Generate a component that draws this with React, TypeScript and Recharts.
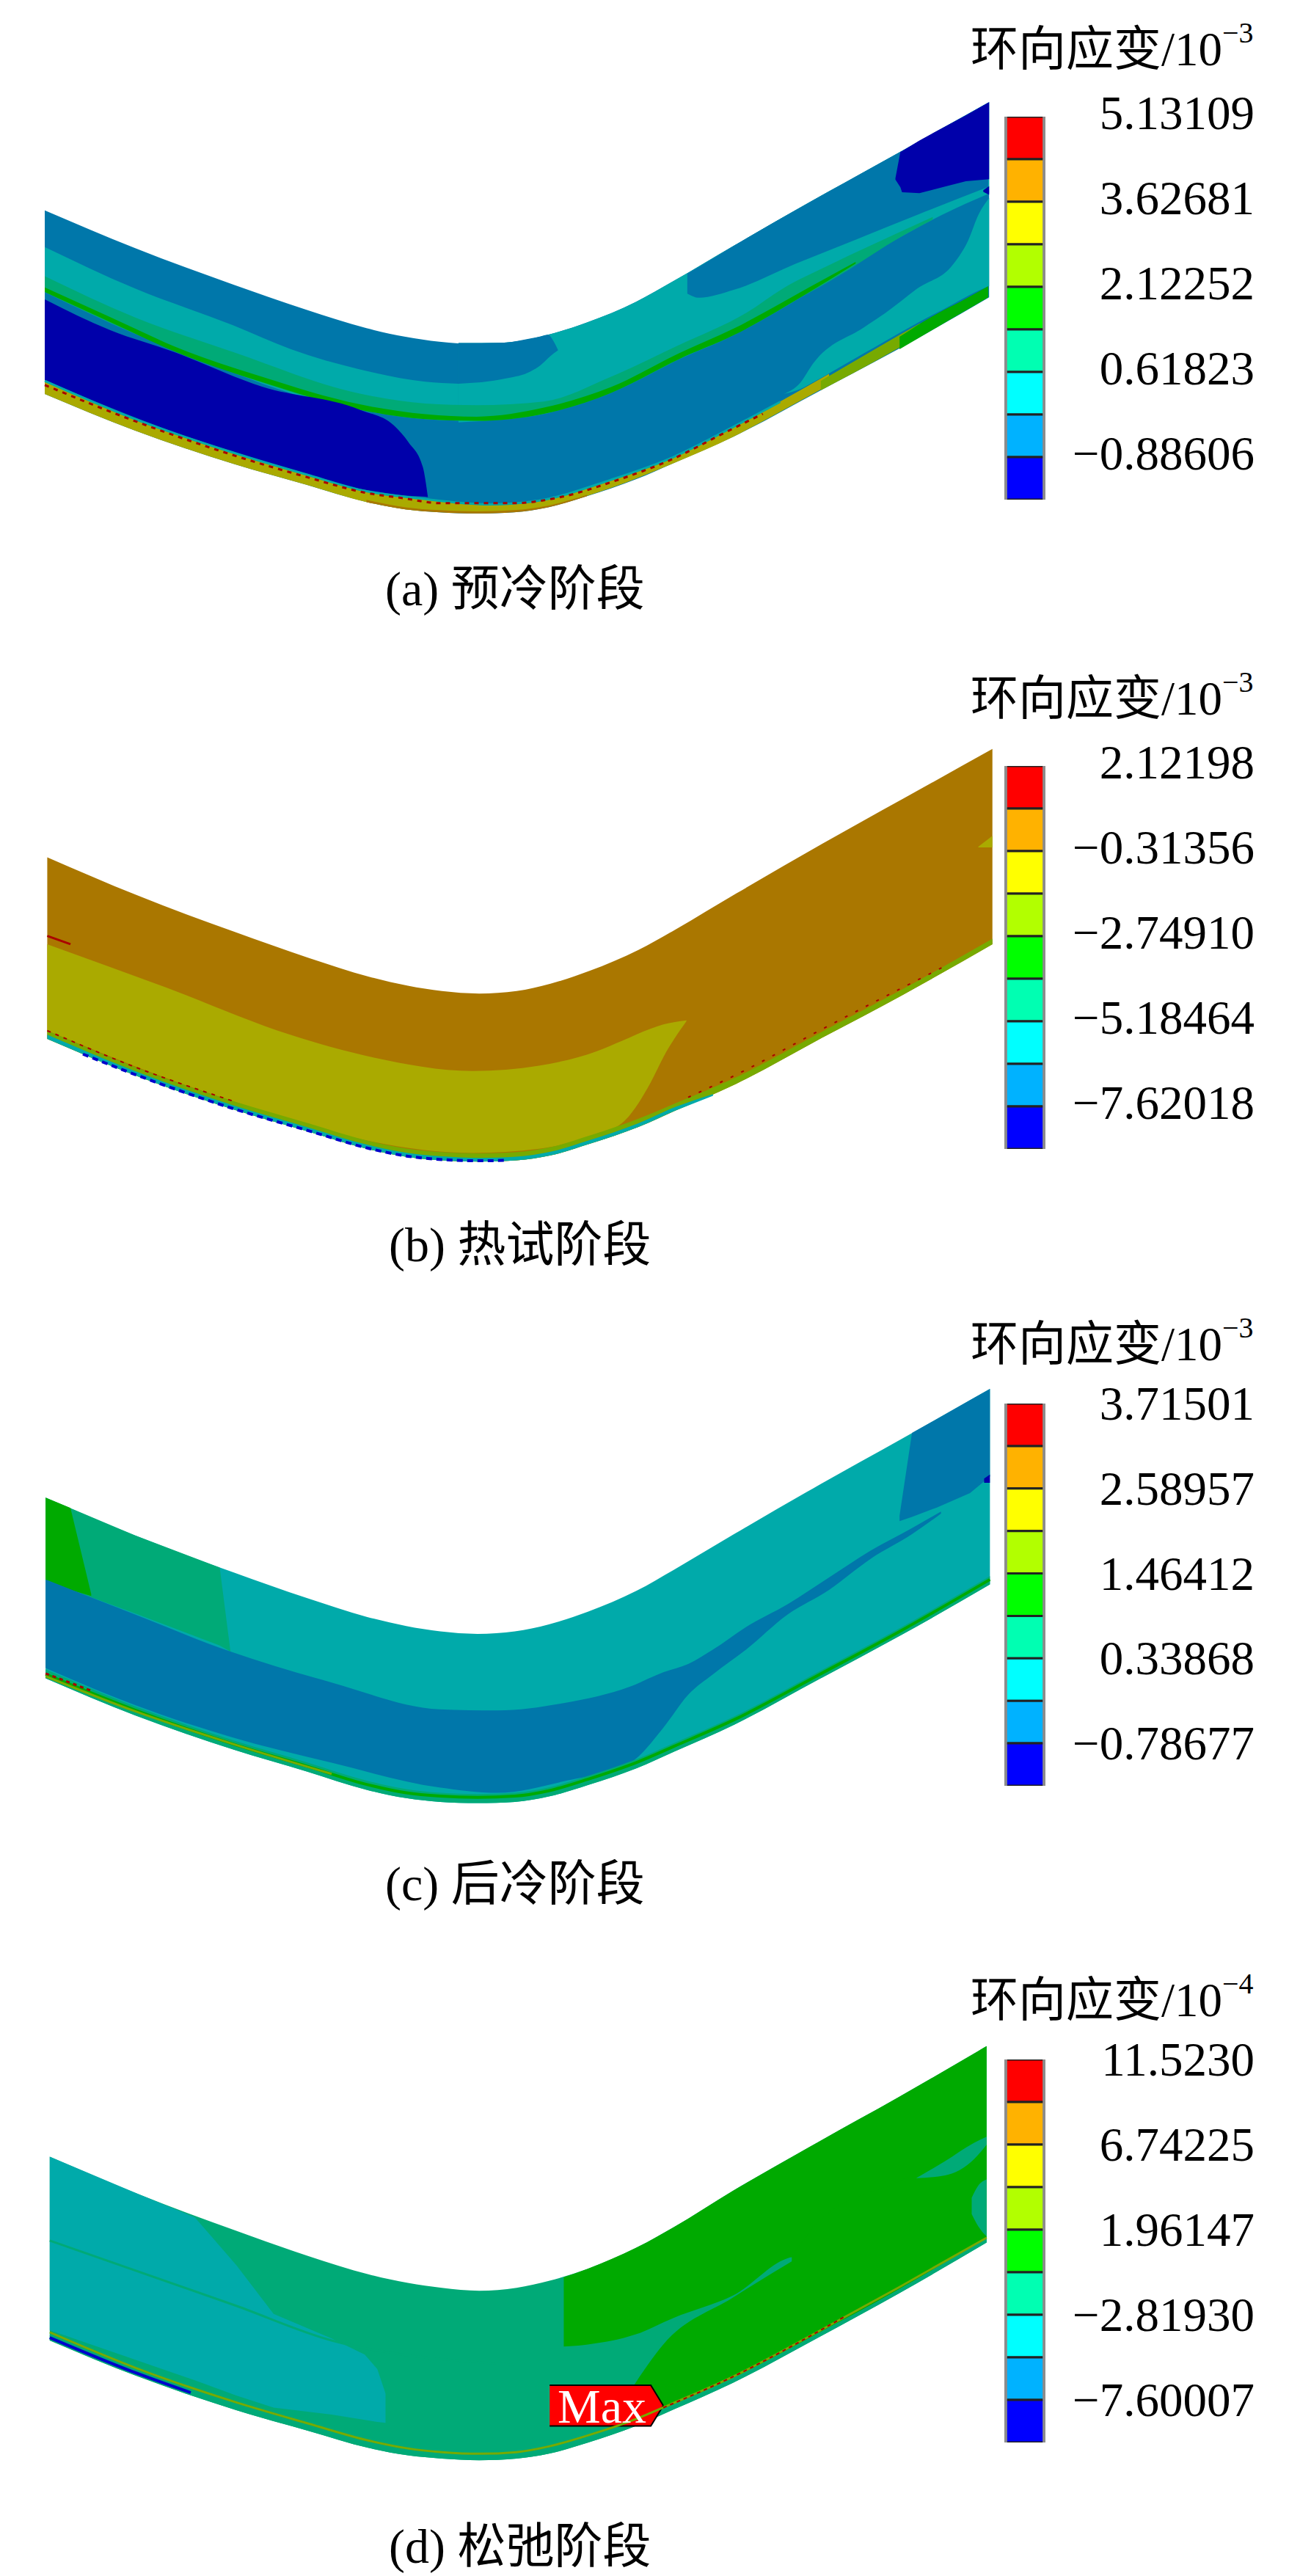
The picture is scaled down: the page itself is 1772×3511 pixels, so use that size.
import { Area, ComposedChart, Line, ReferenceDot, XAxis, YAxis } from 'recharts';

// contour plots, in plot units (0-1568 both ways)
type Row = [number, number, number];
type Pt = [number, number];

const C = {
  navy: '#0000aa', steel: '#0077aa', teal: '#00aaaa', sea: '#00aa77', green: '#00aa00',
  lime: '#77aa00', olive: '#aaaa00', brown: '#aa7700', red: '#aa0000',
};
const legendColors = ['#ff0000', '#ffb200', '#ffff00', '#b2ff00', '#00ff00', '#00ffb2', '#00ffff', '#00b2ff', '#0000ff'];

// (a)
const aPipe: Row[] = [[54,511,957],[162,602,1045],[281,691,1126],[369,752,1177],[442,797,1219],[489,818,1237],[530,830,1244],[575,836,1247],[620,830,1244],[661,813,1232],[708,783,1205],[767,733,1164],[812,683,1125],[885,597,1060],[988,478,950],[1086,369,845],[1193,248,722]];
const aTealLeft: Row[] = [[54,600,709],[162,700,810],[281,790,905],[351,848,955],[434,897,995],[513,927,1018],[553,932,1022]];
const aTealRight: Row[] = [[553,833,1026],[608,832,1018],[661,813,1003],[708,783,973],[767,733,924],[812,683,879],[885,597,814],[973,495,713],[1033,428,636],[1091,363,570],[1136,312,522],[1193,248,470]];
const aBlobMid: Row[] = [[553,833,932],[608,832,920],[640,822,902],[652,817,887],[661,813,870],[668,830,858],[673,850,851]];
const aBlobUpper: Row[] = [[829,664,713],[843,648,723],[885,597,704],[959,511,641],[1032,429,582],[1106,346,522],[1192,249,454]];
const aSea: Row[] = [[54,671,709],[162,770,810],[281,855,905],[434,956,995],[513,980,1018],[575,984,1022],[656,975,1005],[737,915,954],[819,838,872],[900,760,790],[944,701,745],[1003,641,680],[1091,558,570],[1125,527,533]];
const aGreen: Row[] = [[54,698,709],[133,770,782],[221,850,862],[316,915,928],[434,982,995],[513,1006,1018],[575,1012,1022],[656,990,1005],[737,940,954],[819,858,872],[885,798,814],[973,701,713],[1032,636,640]];
const aNavyLeft: Row[] = [[54,727,923],[133,802,990],[210,855,1050],[316,939,1122],[434,995,1187],[475,1033,1200],[493,1075,1204],[510,1134,1206],[516,1206,1207]];
const aNavyRight: Row[] = [[1080,433,436],[1086,369,455],[1088,367,467],[1109,341,469],[1165,280,440],[1193,248,435]];
const aNavyDot: Row[] = [[1186,462,466],[1193,452,473]];
const aTealLow: Row[] = [[945,957,957],[965,930,945],[981,882,928],[1042,795,858],[1068,760,828],[1106,701,785],[1150,641,738],[1168,583,718],[1180,522,706],[1193,481,695]];
const aStripOlive: Row[] = [[54,923,957],[162,1015,1045],[281,1097,1126],[369,1150,1177],[442,1191,1219],[504,1208,1240],[590,1224,1246],[649,1215,1235],[737,1164,1185],[811,1110,1126],[885,1035,1060],[941,975,1000],[1000,908,935]];
const aStripLime: Row[] = [[990,925,948],[1062,840,870],[1110,785,815]];
const aStripGreen: Row[] = [[1085,818,848],[1130,762,795],[1159,732,761],[1192,695,722]];
const aStripBrown: Row[] = [[442,1214,1219],[489,1232,1237],[530,1239,1244],[575,1242,1247],[620,1239,1244],[661,1228,1232],[708,1202,1205]];
const aEdgeTeal: Pt[] = [[54,925],[162,1017],[281,1099],[369,1152],[442,1193],[504,1210],[590,1225],[649,1216],[737,1165],[811,1111],[885,1036],[941,976]];
const aEdgeRed: Pt[] = [[54,935],[158,1019],[276,1102],[369,1158],[442,1197],[487,1210],[531,1222],[619,1222],[679,1206],[737,1171],[811,1115],[873,1052],[920,1005]];

// (b)
const bPipe: Row[] = [[57,514,955],[165,606,1045],[284,696,1128],[372,758,1180],[445,804,1223],[492,826,1242],[533,839,1250],[578,845,1253],[623,839,1250],[664,821,1238],[711,790,1210],[770,739,1169],[815,689,1129],[888,602,1064],[991,482,953],[1089,372,848],[1197,251,725]];
const bOlive: Row[] = [[57,725,935],[200,830,1050],[350,945,1150],[450,1000,1205],[570,1033,1232],[650,1020,1222],[720,985,1185],[750,960,1160],[785,930,1060],[800,920,1000],[828,910,912]];
const bStripLime: Row[] = [[57,935,955],[165,1025,1045],[284,1108,1128],[372,1160,1180],[445,1203,1223],[492,1222,1242],[533,1230,1250],[578,1233,1253],[623,1230,1250],[664,1218,1238],[711,1190,1210],[770,1149,1169],[815,1111,1129],[888,1048,1064],[991,938,953],[1089,834,848],[1197,712,725]];
const bStripTeal: Row[] = [[57,945,955],[165,1035,1045],[284,1118,1128],[372,1170,1180],[445,1213,1223],[492,1232,1242],[533,1240,1250],[578,1244,1253],[623,1241,1250],[664,1229,1238],[711,1201,1210],[770,1160,1169],[815,1120,1129],[860,1089,1093]];
const bNotch: Row[] = [[1180,488,490],[1197,462,490]];
const bEdgeNavy: Pt[] = [[100,992],[165,1043],[284,1126],[372,1178],[445,1221],[492,1240],[533,1248],[578,1251],[611,1250]];
const bEdgeRed: Pt[] = [[57,935],[165,1025],[284,1108]];
const bEdgeRedTop: Pt[] = [[57,705],[85,725]];
const bEdgeRedRight: Pt[] = [[830,1097],[888,1042],[991,932],[1089,830],[1140,778]];

// (c)
const cPipe: Row[] = [[55,501,940],[163,593,1030],[282,683,1113],[370,745,1166],[443,791,1211],[490,813,1231],[531,826,1240],[576,832,1243],[621,826,1240],[662,809,1227],[709,778,1199],[768,727,1158],[813,676,1118],[886,589,1052],[989,469,941],[1087,359,835],[1194,237,712]];
const cSeaPatch: Row[] = [[55,501,702],[163,593,782],[265,671,860],[278,875,875]];
const cGreenPatch: Row[] = [[55,501,702],[85,526,725],[110,735,740]];
const cSteel: Row[] = [[55,700,915],[163,785,1005],[278,875,1082],[400,950,1145],[530,1015,1205],[600,1018,1218],[680,1000,1190],[760,960,1145],[800,925,1060],[830,905,980],[860,870,930],[900,815,870],[950,760,785],[1000,695,725],[1050,630,650],[1100,575,590],[1135,535,540]];
const cSteelUpper: Row[] = [[1085,545,558],[1100,344,548],[1130,310,525],[1170,264,490],[1194,237,450]];
const cNavyDot: Row[] = [[1187,455,465],[1194,445,465]];
const cStripSea: Row[] = [[55,918,940],[163,1008,1030],[282,1091,1113],[370,1144,1166],[443,1189,1211],[490,1209,1231],[531,1218,1240],[576,1221,1243],[621,1218,1240],[662,1205,1227],[709,1177,1199],[768,1136,1158],[813,1097,1118],[886,1032,1052],[989,922,941],[1087,816,835],[1194,692,712]];
const cEdgeGreen: Pt[] = [[55,930],[163,1017],[282,1100],[370,1153],[443,1198],[490,1218],[531,1226],[576,1229],[621,1226],[662,1213],[709,1185],[768,1144],[813,1105],[886,1040],[989,930],[1087,824],[1194,700]];
const cEdgeLime: Pt[] = [[55,935],[163,1020],[282,1100],[400,1172]];
const cEdgeRed: Pt[] = [[55,928],[110,970]];

// (d)
const dPipe: Row[] = [[60,539,990],[167,631,1079],[285,721,1161],[372,783,1212],[445,828,1254],[492,849,1272],[533,861,1280],[578,868,1284],[623,861,1280],[662,844,1268],[709,814,1241],[767,763,1200],[812,713,1160],[884,623,1094],[987,503,983],[1084,393,875],[1190,268,750]];
const dTeal: Row[] = [[60,539,965],[167,631,1040],[235,688,1088],[285,805,1125],[330,925,1155],[400,985,1172],[440,1025,1185],[455,1060,1190],[465,1120,1192]];
const dGreenUpper: Row[] = [[680,835,1005],[709,814,1000],[767,763,975],[812,713,935],[884,623,880],[960,534,785],[987,503,800],[1084,393,700],[1190,268,600]];
const dGreenLower: Row[] = [[762,1108,1193],[800,1000,1165],[884,885,1088],[960,790,1005]];
const dGreenRight: Row[] = [[955,785,1010],[987,700,975],[1084,600,865],[1190,500,738]];
const dPatchHigh: Row[] = [[1105,592,592],[1140,550,585],[1175,505,545],[1190,490,510]];
const dPatchLow: Row[] = [[1172,640,680],[1180,610,710],[1190,595,735]];
const dStripSea: Row[] = [[60,976,990],[167,1065,1079],[285,1147,1161],[372,1198,1212],[445,1240,1254],[492,1258,1272],[533,1266,1280],[578,1270,1284],[623,1266,1280],[662,1254,1268],[709,1227,1241],[767,1186,1200],[812,1147,1160],[884,1082,1094],[987,972,983],[1084,865,875],[1190,738,750]];
const dMax: Row[] = [[663,1100,1200],[785,1100,1200],[800,1150,1150]];
const dEdgeLime: Pt[] = [[60,970],[167,1060],[285,1142],[372,1194],[445,1236],[492,1255],[533,1264],[578,1268],[623,1264],[662,1250],[709,1223],[767,1183],[812,1144],[884,1079],[987,968],[1084,860],[1190,738]];
const dEdgeNavy: Pt[] = [[60,983],[167,1072],[230,1118]];
const dEdgeRed: Pt[] = [[800,1155],[884,1079],[987,968],[1020,930]];
const dInnerLine: Pt[] = [[60,745],[285,905],[400,990],[620,1050]];

// legends
const aEdges = [5.13109,4.37895,3.62681,2.87467,2.12252,1.37038,0.61823,-0.13392,-0.88606,-1.6382];
const bEdges = [2.12198,0.90421,-0.31356,-1.53133,-2.7491,-3.96687,-5.18464,-6.40241,-7.62018,-8.83795];
const cEdges = [3.71501,3.15229,2.58957,2.02685,1.46412,0.9014,0.33868,-0.22405,-0.78677,-1.34949];
const dEdges = [11.523,9.13263,6.74225,4.35186,1.96147,-0.42892,-2.8193,-5.20969,-7.60007,-9.99046];
const aLabels = ['5.13109','3.62681','2.12252','0.61823','−0.88606'];
const bLabels = ['2.12198','−0.31356','−2.74910','−5.18464','−7.62018'];
const cLabels = ['3.71501','2.58957','1.46412','0.33868','−0.78677'];
const dLabels = ['11.5230','6.74225','1.96147','−2.81930','−7.60007'];

const SERIF = '"Liberation Serif", "Noto Sans CJK SC", serif';

const panels = [
  {
    top: 0, height: 880, exponent: '−3', caption: '(a) 预冷阶段', captionX: 525, captionY: 825, titleY: 89,
    barTop: 159, barBottom: 681, labelDy: 17, edges: aEdges, labels: aLabels,
    regions: [[aPipe,C.steel],[aTealLeft,C.teal],[aTealRight,C.teal],[aBlobMid,C.steel],[aBlobUpper,C.steel],[aSea,C.sea],[aGreen,C.green],[aNavyLeft,C.navy],[aNavyRight,C.navy,'linear'],[aNavyDot,C.navy],[aTealLow,C.teal],[aStripOlive,C.olive],[aStripLime,C.lime],[aStripGreen,C.green],[aStripBrown,C.brown]],
    lines: [[aEdgeTeal,C.teal,3,undefined],[aEdgeRed,C.red,3,'6 7']],
  },
  {
    top: 880, height: 880, exponent: '−3', caption: '(b) 热试阶段', captionX: 530, captionY: 839, titleY: 94,
    barTop: 164, barBottom: 686, labelDy: 17, edges: bEdges, labels: bLabels,
    regions: [[bPipe,C.brown],[bOlive,C.olive],[bStripLime,C.lime],[bStripTeal,C.teal],[bNotch,C.olive]],
    lines: [[bEdgeNavy,'#0000cc',4,'8 6'],[bEdgeRed,C.red,2,'5 7'],[bEdgeRedTop,C.red,3,undefined],[bEdgeRedRight,C.red,2,'4 12']],
  },
  {
    top: 1760, height: 880, exponent: '−3', caption: '(c) 后冷阶段', captionX: 525, captionY: 830, titleY: 94,
    barTop: 153, barBottom: 674, labelDy: 22, edges: cEdges, labels: cLabels,
    regions: [[cPipe,C.teal],[cSeaPatch,C.sea,'linear'],[cGreenPatch,C.green,'linear'],[cSteel,C.steel],[cSteelUpper,C.steel,'linear'],[cNavyDot,C.navy],[cStripSea,C.sea]],
    lines: [[cEdgeGreen,C.green,4,undefined],[cEdgeLime,C.lime,3,undefined],[cEdgeRed,C.red,3,'5 5']],
  },
  {
    top: 2640, height: 871, exponent: '−4', caption: '(d) 松弛阶段', captionX: 530, captionY: 853, titleY: 108,
    barTop: 167, barBottom: 689, labelDy: 22, edges: dEdges, labels: dLabels,
    regions: [[dPipe,C.sea],[dTeal,C.teal,'linear'],[dGreenUpper,C.green],[dGreenLower,C.green],[dGreenRight,C.green],[dPatchHigh,C.sea],[dPatchLow,C.sea],[dStripSea,C.sea]],
    lines: [[dEdgeLime,C.lime,3,undefined],[dEdgeNavy,'#0000cc',4,undefined],[dEdgeRed,C.red,2,'5 5'],[dInnerLine,C.sea,3,undefined]],
    marker: dMax,
  },
];

const toRange = (rows: Row[]) => rows.map(([x, y1, y2]) => ({ x, range: [y1, y2] }));
const toLine = (pts: Pt[]) => pts.map(([x, y]) => ({ x, y }));

function ColorBar({ p }: { p: any }) {
  const lo = p.edges[9];
  const hi = p.edges[0];
  const ticks = [p.edges[0], p.edges[2], p.edges[4], p.edges[6], p.edges[8]];
  const tick = (t: any) => (
    <text x={341} y={t.y + p.labelDy} textAnchor="end" fontSize={65} fontFamily={SERIF} fill="#000">
      {p.labels[ticks.indexOf(t.payload.value)]}
    </text>
  );
  return (
    <div style={{ position: 'absolute', left: 1369, top: p.top + p.barTop - 50 }}>
      <ComposedChart width={400} height={p.barBottom - p.barTop + 100} margin={{ top: 50, bottom: 50, left: 0, right: 0 }}>
        <XAxis type="number" dataKey="x" domain={[-0.08, 1.08]} hide />
        <YAxis type="number" orientation="right" width={344} domain={[lo, hi]} ticks={ticks} interval={0} tick={tick} tickLine={false} axisLine={false} allowDataOverflow />
        <Area data={[{ x: -0.08, range: [lo, hi] }, { x: 1.08, range: [lo, hi] }]} dataKey="range" type="linear" fill="#8c8c8c" fillOpacity={1} stroke="none" isAnimationActive={false} dot={false} activeDot={false} />
        {legendColors.map((c, i) => (
          <Area key={c} data={[{ x: 0, range: [p.edges[i + 1], p.edges[i]] }, { x: 1, range: [p.edges[i + 1], p.edges[i]] }]} dataKey="range" type="linear" fill={c} fillOpacity={1} stroke="#222" strokeWidth={3} isAnimationActive={false} dot={false} activeDot={false} />
        ))}
      </ComposedChart>
    </div>
  );
}

function Panel({ p }: { p: any }) {
  return (
    <div style={{ position: 'absolute', left: 0, top: p.top }}>
      <ComposedChart width={1772} height={p.height} margin={{ top: 0, bottom: 0, left: 0, right: 0 }}>
        <XAxis type="number" dataKey="x" domain={[0, 1568]} hide />
        <YAxis type="number" domain={[0, 1568]} reversed hide />
        {p.regions.map(([rows, fill, curve]: any, i: number) => (
          <Area key={i} data={toRange(rows)} dataKey="range" type={curve || 'monotone'} fill={fill} fillOpacity={1} stroke="none" isAnimationActive={false} dot={false} activeDot={false} />
        ))}
        {p.lines.map(([pts, color, w, dash]: any, i: number) => (
          <Line key={i} data={toLine(pts)} dataKey="y" type="monotone" stroke={color} strokeWidth={w} strokeDasharray={dash} isAnimationActive={false} dot={false} activeDot={false} />
        ))}
        {p.marker && (
          <Area data={toRange(p.marker)} dataKey="range" type="linear" fill="#ff0000" fillOpacity={1} stroke="#000" strokeWidth={2} isAnimationActive={false} dot={false} activeDot={false} />
        )}
        {p.marker && (
          <ReferenceDot x={726} y={1150} r={0} fill="none" stroke="none" label={{ value: 'Max', fill: '#fff', fontSize: 66, fontFamily: SERIF, position: 'center' }} />
        )}
        <text x={1323} y={p.titleY} fontSize={65} fontFamily={SERIF} fill="#000">
          环向应变/10
          <tspan fontSize={40} dy={-31}>{p.exponent}</tspan>
        </text>
        <text x={p.captionX} y={p.captionY} fontSize={66} fontFamily={SERIF} fill="#000">{p.caption}</text>
      </ComposedChart>
    </div>
  );
}

export default function App() {
  return (
    <div style={{ position: 'absolute', left: 0, top: 0, width: 1772, height: 3511, background: '#fff' }}>
      {panels.map((p) => <Panel key={p.top} p={p} />)}
      {panels.map((p) => <ColorBar key={p.top} p={p} />)}
    </div>
  );
}
